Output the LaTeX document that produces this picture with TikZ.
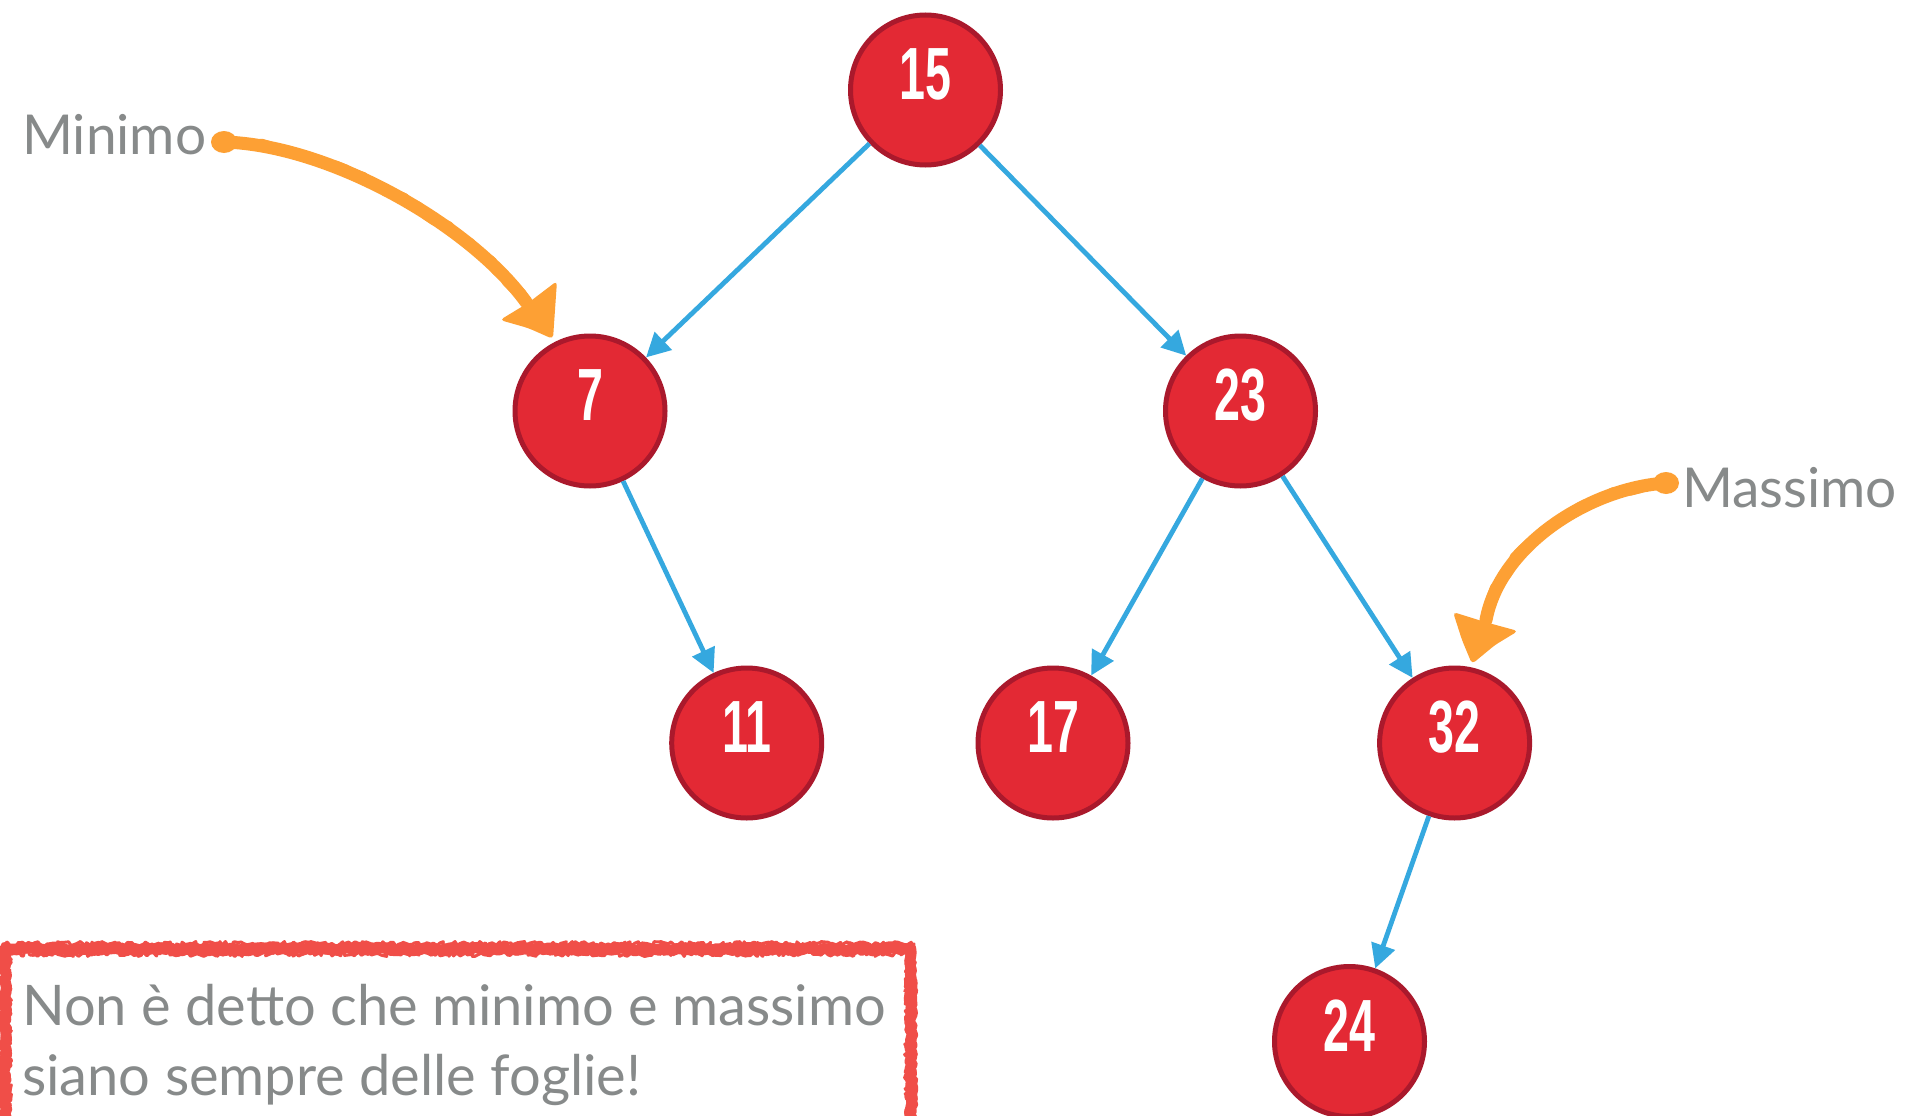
\documentclass[tikz,border=0pt]{standalone}
\usepackage{graphicx}
\usepackage{fontspec}
\setmainfont{Lato}
\newfontfamily\numfont{Liberation Sans}
\usetikzlibrary{arrows.meta,decorations.pathmorphing}
\definecolor{nodefill}{RGB}{227,41,52}
\definecolor{nodeedge}{RGB}{170,25,44}
\definecolor{edgeblue}{RGB}{53,168,223}
\definecolor{txtgray}{RGB}{135,138,138}
\definecolor{orng}{RGB}{253,160,52}
\definecolor{boxred}{RGB}{240,78,72}
\newcommand\numtxt[1]{\scalebox{0.63}[1]{#1}}
\begin{document}
\begin{tikzpicture}[x=1pt,y=-1pt,
  tn/.style={circle,fill=nodefill,draw=nodeedge,line width=5pt,minimum size=150pt,inner sep=0pt},
  numlbl/.style={text=white,font=\numfont\bfseries\fontsize{74}{74}\selectfont,yshift=16pt,inner sep=0pt},
  edge/.style={draw=edgeblue,line width=4.8pt,-{Triangle[length=24pt,width=24pt]}},
  lbl/.style={text=txtgray,font=\fontsize{55}{60}\selectfont,inner sep=0pt},
  boxtxt/.style={text=txtgray,font=\fontsize{56}{70}\selectfont,inner sep=0pt,anchor=base west},
  orangeline/.style={draw=orng,line width=13pt,line cap=round,line join=round},
  orangerough/.style={draw=orng,line width=9pt,line cap=round,line join=round,
     decorate,decoration={random steps,segment length=9pt,amplitude=2.5pt}},
  roughA/.style={draw=boxred,line width=11pt,line join=round,decorate,decoration={random steps,segment length=3pt,amplitude=1.8pt}},
  roughB/.style={draw=boxred,line width=3pt,line join=round,line cap=round,decorate,decoration={random steps,segment length=2.5pt,amplitude=2.5pt}}
]
\pgfmathsetseed{7}
\useasboundingbox (0,0) rectangle (1907,1116);
\fill[white] (0,0) rectangle (1907,1116);

% tree nodes
\node[tn,label={[numlbl]center:\numtxt{15}}] (n15) at (925.5,90) {};
\node[tn,label={[numlbl]center:\numtxt{7}}] (n7) at (590,411) {};
\node[tn,label={[numlbl]center:\numtxt{23}}] (n23) at (1240.5,411) {};
\node[tn,label={[numlbl]center:\numtxt{11}}] (n11) at (746.7,743) {};
\node[tn,label={[numlbl]center:\numtxt{17}}] (n17) at (1053,743) {};
\node[tn,label={[numlbl]center:\numtxt{32}}] (n32) at (1454.6,743) {};
\node[tn,label={[numlbl]center:\numtxt{24}}] (n24) at (1349.5,1041.5) {};

% edges
\draw[edge] (n15) -- (n7);
\draw[edge] (n15) -- (n23);
\draw[edge] (n7) -- (n11);
\draw[edge] (n23) -- (n17);
\draw[edge] (n23) -- (n32);
\draw[edge] (n32) -- (n24);

% labels
\node[lbl,anchor=base west] (minimo) at (22,154) {Minimo};
\node[lbl,anchor=base west] (massimo) at (1682,507) {Massimo};

% orange arrows
\coordinate (minA) at (224,142);
\coordinate (minB) at (526,302);
\draw[orangeline] (minA) .. controls (330,145) and (470,225) .. (minB);
\draw[orangerough] (minA) .. controls (330,145) and (470,225) .. (minB);
\fill[orng] (minA) ellipse [x radius=13, y radius=11];
\fill[orng,rounded corners=4pt] (500,320) -- (528,303) -- (557,281) -- (555,310) -- (553,339) -- (528,328) -- cycle;

\coordinate (maxA) at (1666,483);
\coordinate (maxB) at (1486,620);
\draw[orangeline] (maxA) .. controls (1590,488) and (1500,545) .. (maxB);
\draw[orangerough] (maxA) .. controls (1590,488) and (1500,545) .. (maxB);
\fill[orng] (maxA) ellipse [x radius=13, y radius=11];
\fill[orng,rounded corners=4pt] (1453,612) -- (1485,622) -- (1518,631) -- (1495,645) -- (1472,664) -- (1462,640) -- cycle;

% note box
\begin{scope}
\clip (0,0) rectangle (1907,1116);
\draw[roughA] (5,949) rectangle (911,1140);
\draw[roughB] (3,944) rectangle (914,1140);
\draw[roughB] (9,954) rectangle (907,1140);
\end{scope}
\node[boxtxt] (line1) at (22,1025) {Non è detto che minimo e massimo};
\node[boxtxt] (line2) at (22,1095) {siano sempre delle foglie!};
\end{tikzpicture}
\end{document}
